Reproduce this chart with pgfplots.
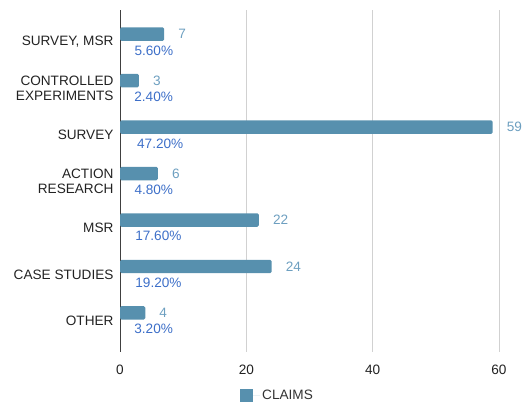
\documentclass[border=0pt]{standalone}
\usepackage{fontspec}
\setmainfont{Liberation Sans}
\usepackage{pgfplots}
\pgfplotsset{compat=1.18}
\usepackage{pgfplotstable}

\definecolor{barblue}{HTML}{5790AE}
\definecolor{vallabel}{HTML}{6D9FC0}
\definecolor{pctlabel}{HTML}{3D6FC8}
\definecolor{txt}{HTML}{222222}

\pgfkeys{/pgf/number format/assume math mode=true}

% pos = category row, claims = count, frac = share (as fraction), pct = share in %
\pgfplotstableread{
pos claims frac  pct
0   7      0.056 5.60
1   3      0.024 2.40
2   59     0.472 47.20
3   6      0.048 4.80
4   22     0.176 17.60
5   24     0.192 19.20
6   4      0.032 3.20
}\claimsdata

\newcommand{\lbl}{\fontsize{13.6}{14.5}\selectfont}

\begin{document}
\begin{tikzpicture}
\begin{axis}[
    name=ax,
    scale only axis,
    width=379pt, height=342pt,
    xmin=0, xmax=60,
    ymin=-0.69, ymax=6.67,
    y dir=reverse,
    axis lines*=left,
    x axis line style={draw=none},
    y axis line style={draw=black!75, line width=0.9pt},
    xtick={0,20,40,60},
    ytick={0,1,2,3,4,5,6},
    yticklabels={{SURVEY, MSR},{CONTROLLED\\EXPERIMENTS},{SURVEY},{ACTION\\RESEARCH},{MSR},{CASE STUDIES},{OTHER}},
    major tick length=0pt,
    xmajorgrids,
    grid style={black!18, line width=0.9pt},
    tick label style={font=\lbl, text=txt},
    yticklabel style={align=right, xshift=-3pt},
    xticklabel style={yshift=-9pt},
    legend style={draw=none, inner sep=0pt, at={(0.3166,-0.126)}, anchor=west,
        font=\lbl, text=black!80},
    legend image code/.code={\fill[barblue, sharp corners] (0pt,-6.5pt) rectangle (13pt,6.5pt);
        \path (0pt,0pt) -- (20pt,0pt);},
]
\addplot[xbar, fill=barblue, draw=none, bar width=0.29, bar shift=0pt,
    rounded corners=1.5pt,
    point meta=x,
    nodes near coords,
    every node near coord/.append style={anchor=west, inner sep=0pt, xshift=14pt,
        font=\lbl, text=vallabel}]
    table[x=claims, y expr=\thisrow{pos}-0.17] {\claimsdata};
\addlegendentry{CLAIMS}

\addplot[xbar, fill=none, draw=none, bar width=0.29, bar shift=0pt, forget plot,
    point meta=explicit,
    nodes near coords={\pgfmathprintnumber[fixed,fixed zerofill,precision=2]{\pgfplotspointmeta}\%},
    every node near coord/.append style={anchor=west, inner sep=0pt, xshift=14pt,
        font=\lbl, text=pctlabel}]
    table[x=frac, y expr=\thisrow{pos}+0.18, meta=pct] {\claimsdata};
\end{axis}
\path ([xshift=-120pt,yshift=-53pt]ax.south west) rectangle ([xshift=24pt,yshift=10pt]ax.north east);
\end{tikzpicture}
\end{document}
